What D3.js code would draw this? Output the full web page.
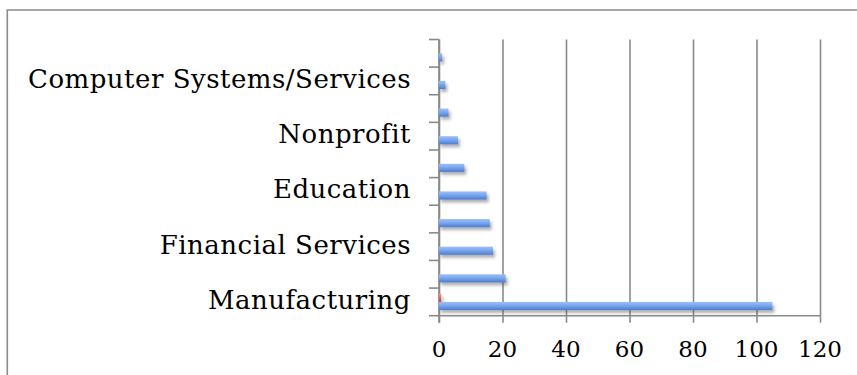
<!DOCTYPE html>
<html>
<head>
<meta charset="utf-8">
<script src="https://cdn.jsdelivr.net/npm/d3@7/dist/d3.min.js"></script>
<style>
  html, body { margin: 0; padding: 0; background: #fff; }
  svg { display: block; }
</style>
</head>
<body>
<svg id="chart" width="857" height="375"></svg>
<script>
// Industries, bottom to top; only every other one carries a visible label
const categoryLabels = ["Manufacturing", "", "Financial Services", "", "Education", "", "Nonprofit", "", "Computer Systems/Services", ""];
const seriesBlue = [105, 21, 17, 16, 15, 8, 6, 3, 2, 1];
const seriesRed  = [0.7, 0, 0, 0, 0, 0, 0, 0, 0, 0];
const xTicks = [0, 20, 40, 60, 80, 100, 120];

const svg = d3.select("#chart");
const W = 857, H = 375;
const plot = { left: 439, right: 820, top: 39.5, bottom: 315.7 };
const gridColor = "#8a8a8a";
const fontFamily = "'DejaVu Serif', 'Liberation Serif', serif";

// Outer chart frame
svg.append("path")
  .attr("d", `M7.3,${H} V10 H${W}`)
  .attr("fill", "none")
  .attr("stroke", gridColor)
  .attr("stroke-width", 1.6);

const defs = svg.append("defs");
const gBlue = defs.append("linearGradient").attr("id", "gradBlue").attr("x1", 0).attr("y1", 0).attr("x2", 0).attr("y2", 1);
gBlue.append("stop").attr("offset", "0%").attr("stop-color", "#9cc0f7");
gBlue.append("stop").attr("offset", "45%").attr("stop-color", "#7aa7ee");
gBlue.append("stop").attr("offset", "100%").attr("stop-color", "#4a7dd2");
const gRed = defs.append("linearGradient").attr("id", "gradRed").attr("x1", 0).attr("y1", 0).attr("x2", 0).attr("y2", 1);
gRed.append("stop").attr("offset", "0%").attr("stop-color", "#f0908c");
gRed.append("stop").attr("offset", "100%").attr("stop-color", "#c9403c");
const shadow = defs.append("filter").attr("id", "barShadow")
  .attr("x", "-10%").attr("y", "-50%").attr("width", "130%").attr("height", "250%");
shadow.append("feDropShadow")
  .attr("dx", 2).attr("dy", 3).attr("stdDeviation", 1.6)
  .attr("flood-color", "#555").attr("flood-opacity", 0.45);

const x = d3.scaleLinear().domain([0, 120]).range([plot.left, plot.right]);
const idx = d3.range(categoryLabels.length);
const y = d3.scaleBand().domain(idx).range([plot.bottom, plot.top]);
const inner = d3.scaleBand().domain(["red", "blue"]).range([0, y.bandwidth()]).paddingOuter(0.7).paddingInner(0);

// Vertical gridlines with their tick stubs below the axis
const xAxis = d3.axisBottom(x).tickValues(xTicks).tickSize(-(plot.bottom - plot.top)).tickPadding(0).tickFormat("");
const gx = svg.append("g").attr("transform", `translate(0,${plot.bottom})`).call(xAxis);
gx.select(".domain").remove();
gx.selectAll(".tick line")
  .attr("y2", -(plot.bottom - plot.top)).attr("y1", 7)
  .attr("stroke", gridColor).attr("stroke-width", 1.6);

// Bottom axis line
svg.append("line")
  .attr("x1", plot.left).attr("x2", plot.right)
  .attr("y1", plot.bottom).attr("y2", plot.bottom)
  .attr("stroke", gridColor).attr("stroke-width", 1.6);

// Category axis: ticks at band boundaries
const boundaries = idx.map(i => y(i) + y.bandwidth()).concat([y(idx.length - 1)]);
svg.append("g").selectAll("line").data(boundaries).join("line")
  .attr("x1", plot.left - 10).attr("x2", plot.left)
  .attr("y1", d => d).attr("y2", d => d)
  .attr("stroke", gridColor).attr("stroke-width", 1.6);
svg.append("line")
  .attr("x1", plot.left).attr("x2", plot.left)
  .attr("y1", plot.top).attr("y2", plot.bottom + 7)
  .attr("stroke", gridColor).attr("stroke-width", 1.6);

// Bars
const bars = svg.append("g").attr("filter", "url(#barShadow)");
bars.selectAll("rect.blue").data(idx).join("rect")
  .attr("class", "blue")
  .attr("x", x(0))
  .attr("y", i => y(i) + inner("blue"))
  .attr("width", i => x(seriesBlue[i]) - x(0))
  .attr("height", inner.bandwidth())
  .attr("fill", "url(#gradBlue)");
bars.selectAll("rect.red").data(idx.filter(i => seriesRed[i] > 0)).join("rect")
  .attr("class", "red")
  .attr("x", x(0))
  .attr("y", i => y(i) + inner("red"))
  .attr("width", i => x(seriesRed[i]) - x(0))
  .attr("height", inner.bandwidth())
  .attr("fill", "url(#gradRed)");

// Category labels
svg.append("g").selectAll("text").data(idx.filter(i => categoryLabels[i] !== "")).join("text")
  .attr("x", 411)
  .attr("y", i => y(i) + y.bandwidth() / 2 + 7)
  .attr("text-anchor", "end")
  .attr("font-family", fontFamily)
  .attr("font-size", 26)
  .attr("letter-spacing", 0.5)
  .attr("fill", "#000")
  .text(i => categoryLabels[i]);

// Value axis labels
svg.append("g").selectAll("text").data(xTicks).join("text")
  .attr("x", d => x(d))
  .attr("y", 357)
  .attr("text-anchor", "middle")
  .attr("font-family", fontFamily)
  .attr("font-size", 23)
  .attr("fill", "#000")
  .text(d => d);
</script>
</body>
</html>
